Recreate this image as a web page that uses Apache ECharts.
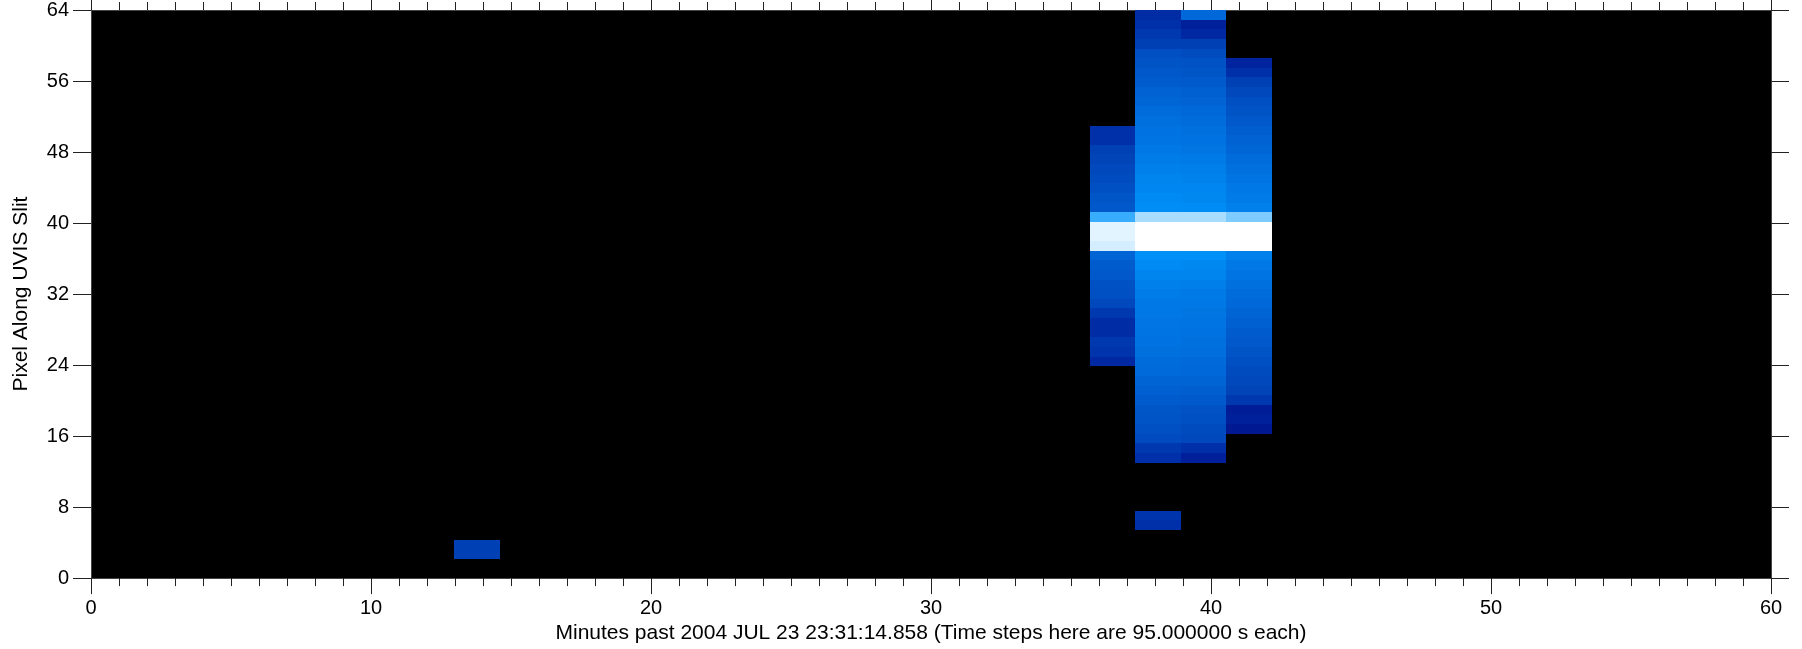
<!DOCTYPE html>
<html><head><meta charset="utf-8">
<script src="https://cdn.jsdelivr.net/npm/echarts@6/dist/echarts.min.js"></script>
<style>html,body{margin:0;padding:0;background:#fff}#c{width:1802px;height:649px}</style>
</head><body><div id="c"></div><script>
// Image grid: 37 time columns spanning 0–60 min, 59 slit rows spanning 0–64
const NCOLS = 37;
const NROWS = 59;
const X_MAX = 60;
const Y_MAX = 64;
const xAxisName = 'Minutes past 2004 JUL 23 23:31:14.858 (Time steps here are 95.000000 s each)';
const yAxisName = 'Pixel Along UVIS Slit';

// Intensity values per column (0 = black / below threshold), listed bottom row upward
const col08 = { col: 8, startRow: 2, values: [27.5, 27.5] };
const col22 = { col: 22, startRow: 22, values: [12.5, 20, 22.5, 15, 15, 22.5, 32.5, 37.5, 38, 42.5, 45, 50, 97, 98, 98, 85, 42.5, 41, 37.5, 35, 32.5, 30, 27.5, 17.5, 17.5] };
const col23low = { col: 23, startRow: 5, values: [17.5, 20] };
const col23 = { col: 23, startRow: 12, values: [17.5, 22.5, 35, 37.5, 40, 41, 45, 47.5, 50, 54, 55, 57.5, 59, 60, 60.5, 62.5, 63, 65, 67.5, 70, 74, 78.5, 100, 100, 100, 94, 77, 74, 71.5, 70, 67.5, 65, 62.5, 60, 59, 57.5, 55, 51, 49, 45, 42.5, 40, 37.5, 27.5, 22.5, 17.5, 15] };
const col24 = { col: 24, startRow: 12, values: [7.5, 17.5, 32.5, 35, 37.5, 39, 44, 46, 50, 52.5, 54, 56, 57.5, 59, 60, 61, 62.5, 64, 66, 70, 72.5, 78.5, 100, 100, 100, 94, 75.5, 72.5, 71.5, 69, 66, 64, 61, 59, 57.5, 55, 52.5, 50, 47.5, 44, 41, 39, 35, 27.5, 12.5, 7.5, 52.5] };
const col25 = { col: 25, startRow: 15, values: [2.5, 7.5, 5, 22.5, 30, 32.5, 35, 37.5, 40, 42.5, 45, 47.5, 50, 52.5, 55, 57.5, 60, 62.5, 67.5, 100, 100, 100, 91, 67.5, 65, 62.5, 60, 57.5, 55, 51, 49, 46, 42.5, 40, 37.5, 32.5, 27.5, 17.5, 10] };
const columns = [col08, col22, col23low, col23, col24, col25];

const colorStops = ['#00148c', '#0024a0', '#0034ac', '#0044b8', '#0054c6', '#0064d4', '#0074e2', '#0084ee', '#0092fa', '#70c6ff', '#ffffff'];

const dx = X_MAX / NCOLS, dy = Y_MAX / NROWS;
const data = [];
columns.forEach(c => {
  c.values.forEach((v, i) => {
    const r = c.startRow + i;
    data.push([c.col * dx, (c.col + 1) * dx, r * dy, (r + 1) * dy, v]);
  });
});

const FONT = 'Liberation Sans, Arial, Helvetica, sans-serif';
const chart = echarts.init(document.getElementById('c'), null, { renderer: 'canvas' });

const tickStyle = { color: '#222', width: 1 };
function xAx(pos, labels) {
  return {
    type: 'value', position: pos, min: 0, max: X_MAX, interval: 10,
    name: labels ? xAxisName : '', nameLocation: 'middle', nameGap: 43,
    nameTextStyle: { fontFamily: FONT, fontSize: 21, color: '#000' },
    axisLine: { show: true, onZero: false, lineStyle: { color: '#444', width: 1 } },
    axisTick: { show: true, inside: false, length: 16, lineStyle: tickStyle },
    minorTick: { show: true, splitNumber: 10, length: 8, lineStyle: tickStyle },
    axisLabel: { show: labels, margin: 20, fontFamily: FONT, fontSize: 20, color: '#000' },
    splitLine: { show: false }, minorSplitLine: { show: false }
  };
}
function yAx(pos, labels) {
  return {
    type: 'value', position: pos, min: 0, max: Y_MAX, interval: 8,
    name: labels ? yAxisName : '', nameLocation: 'middle', nameGap: 59,
    nameTextStyle: { fontFamily: FONT, fontSize: 21, color: '#000' },
    axisLine: { show: true, onZero: false, lineStyle: { color: '#444', width: 1 } },
    axisTick: { show: true, inside: false, length: 18, lineStyle: tickStyle },
    axisLabel: { show: labels, margin: 22, fontFamily: FONT, fontSize: 20, color: '#000' },
    splitLine: { show: false }
  };
}

chart.setOption({
  animation: false,
  backgroundColor: '#fff',
  grid: { left: 91, top: 10, width: 1680, height: 569, show: true, backgroundColor: '#000', borderWidth: 0 },
  xAxis: [xAx('bottom', true), xAx('top', false)],
  yAxis: [yAx('left', true), yAx('right', false)],
  visualMap: { type: 'continuous', show: false, min: 0, max: 100, dimension: 4, seriesIndex: 0, inRange: { color: colorStops } },
  series: [{
    type: 'custom',
    xAxisIndex: 0, yAxisIndex: 0,
    encode: { x: [0, 1], y: [2, 3] },
    clip: true,
    renderItem: function (params, api) {
      const p0 = api.coord([api.value(0), api.value(2)]);
      const p1 = api.coord([api.value(1), api.value(3)]);
      const x = Math.round(p0[0]), x2 = Math.round(p1[0]);
      const yB = Math.round(p0[1]), yT = Math.round(p1[1]);
      return { type: 'rect', shape: { x: x, y: yT, width: x2 - x, height: yB - yT }, style: { fill: api.visual('color') } };
    },
    data: data
  }]
});
</script></body></html>
